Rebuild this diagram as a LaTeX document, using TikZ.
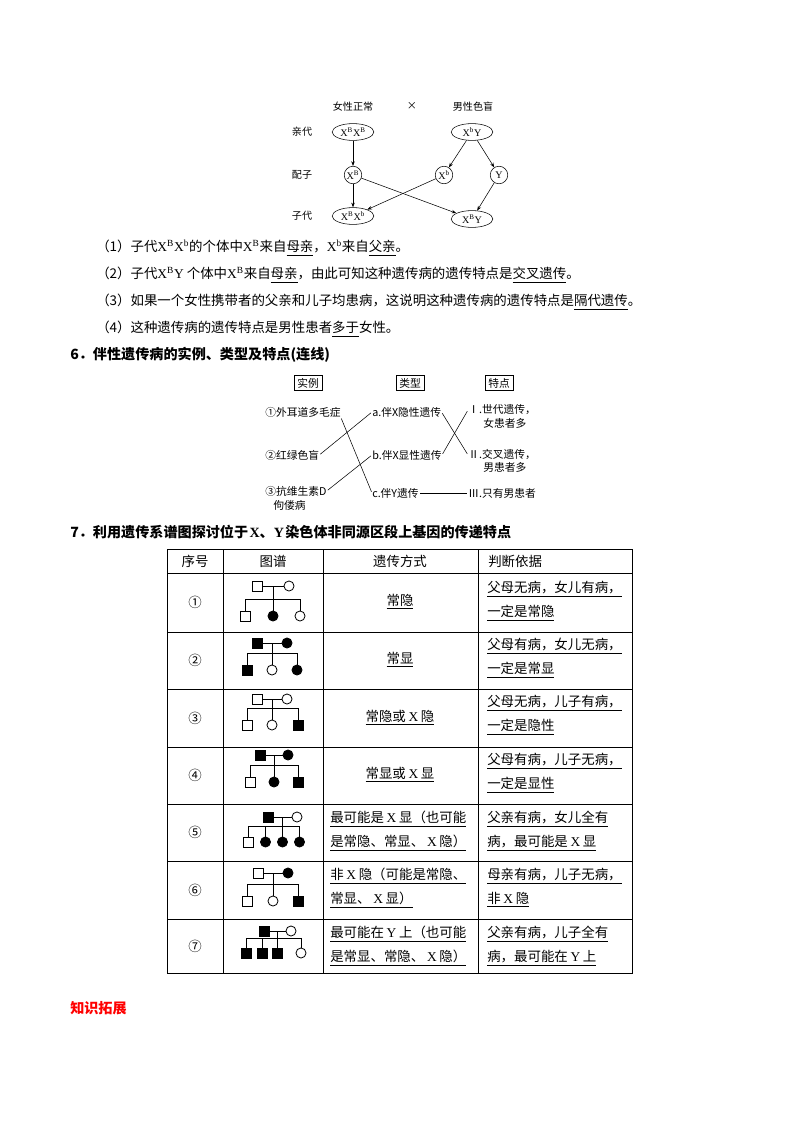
\documentclass[tikz,border=0pt]{standalone}
\usepackage{fontspec}
\setmainfont{Noto Sans CJK SC}
\newfontfamily\tnr{Liberation Serif}
\usetikzlibrary{arrows.meta}
\usetikzlibrary{shapes.geometric}
\newcommand\lx[1]{{\tnr #1}}
\newcommand\lxs[1]{{\kern2pt\tnr #1\kern2pt}}
\newcommand\xg[1]{{\tnr X\textsuperscript{#1}}}

\begin{document}
\begin{tikzpicture}
[x=0.7441pt,y=-0.7441pt
,txt/.style={anchor=west,inner sep=0pt,font=\fontsize{10pt}{12pt}\selectfont}
,head/.style={txt,font=\fontsize{10.5pt}{12pt}\selectfont\bfseries}
,lab/.style={inner sep=0pt,font=\fontsize{7.5pt}{9pt}\selectfont}
,gene/.style={lab,ellipse,draw,minimum width=31pt,minimum height=12.5pt}
,gam/.style={lab,circle,draw,minimum size=13pt}
,ge/.style={-{Stealth[length=3.5pt,width=2.6pt]},thin}
,kbox/.style={draw,inner xsep=2.5pt,inner ysep=2pt,font=\fontsize{8pt}{9pt}\selectfont}
,item/.style={anchor=west,inner sep=0pt,font=\fontsize{8pt}{9pt}\selectfont}
,link/.style={thin,shorten <=1pt,shorten >=1pt}
,grid/.style={line width=0.6pt}
,cell/.style={inner sep=0pt,font=\fontsize{10pt}{12pt}\selectfont}
,cellw/.style={cell,anchor=west}
,ped/.style={line width=0.6pt}
,male/.style={rectangle,draw,line width=0.6pt,minimum size=7.5pt,inner sep=0pt}
,female/.style={circle,draw,line width=0.6pt,minimum size=7.5pt,inner sep=0pt}
,amale/.style={male,fill}
,afemale/.style={female,fill}
]
\useasboundingbox (0,0) rectangle (800,1132);
\node[lab] (mom) at (353,107) {女性正常};
\node[lab] (cross) at (412,106) {×};
\node[lab] (dad) at (473,107) {男性色盲};
\node[lab] (gp) at (302,132) {亲代};
\node[gene] (p1) at (353,132) {\xg{B}\xg{B}};
\node[gene] (p2) at (472,132) {\xg{b}\lx{Y}};
\node[lab] (gg) at (302,175) {配子};
\node[gam] (g1) at (353,175) {\xg{B}};
\node[gam] (g2) at (444,175) {\xg{b}};
\node[gam] (g3) at (499,175) {\lx{Y}};
\node[lab] (gc) at (302,216) {子代};
\node[gene] (c1) at (353,216) {\xg{B}\xg{b}};
\node[gene] (c2) at (472,219) {\xg{B}\lx{Y}};
\draw[ge] (p1) -- (g1);
\draw[ge] (p2) -- (g2);
\draw[ge] (p2) -- (g3);
\draw[ge] (g1) -- (c1);
\draw[ge] (g1) -- (c2);
\draw[ge] (g2) -- (c1);
\draw[ge] (g3) -- (c2);

\node[txt] (q1) at (96,248) {（1）子代\xg{B}\xg{b}的个体中\xg{B}来自\underline{母亲}，\xg{b}来自\underline{父亲}。};
\node[txt] (q2) at (96,275) {（2）子代\xg{B}\lx{Y} 个体中\xg{B}来自\underline{母亲}，由此可知这种遗传病的遗传特点是\underline{交叉遗传}。};
\node[txt] (q3) at (96,302) {（3）如果一个女性携带者的父亲和儿子均患病，这说明这种遗传病的遗传特点是\underline{隔代遗传}。};
\node[txt] (q4) at (96,329) {（4）这种遗传病的遗传特点是男性患者\underline{多于}女性。};

\node[head] (s6) at (70,355) {6．伴性遗传病的实例、类型及特点(连线)};
\node[kbox] (h1) at (308,383) {实例};
\node[kbox] (h2) at (410,383) {类型};
\node[kbox] (h3) at (499,383) {特点};
\node[item] (e1) at (265,412) {①外耳道多毛症};
\node[item] (e2) at (265,455) {②红绿色盲};
\node[item] (e3) at (265,491) {③抗维生素D};
\node[item] (e3b) at (273,505) {佝偻病};
\node[item] (ta) at (372,412) {a.伴X隐性遗传};
\node[item] (tb) at (372,455) {b.伴X显性遗传};
\node[item] (tc) at (372,493) {c.伴Y遗传};
\node[item] (t1) at (468,410) {Ⅰ.世代遗传，};
\node[item] (t1b) at (483,423) {女患者多};
\node[item] (t2) at (468,455) {Ⅱ.交叉遗传，};
\node[item] (t2b) at (483,467) {男患者多};
\node[item] (t3) at (468,493) {Ⅲ.只有男患者};
\draw[link] (e1.south east) -- (tc.west);
\draw[link] (e2.east) -- (ta.west);
\draw[link] (e3.east) -- (tb.west);
\draw[link] (ta.east) -- (t2.west);
\draw[link] (tb.east) -- (t1.west);
\draw[link] (tc.east) -- (t3.west);

\node[head] (s7) at (70,532) {7．利用遗传系谱图探讨位于{\tnr\bfseries\kern1pt X}、{\tnr\bfseries Y\kern1pt}染色体非同源区段上基因的传递特点};
\draw[grid] (167,549) rectangle (632,973);
\draw[grid] (167,573) -- (632,573);
\draw[grid] (167,632) -- (632,632);
\draw[grid] (167,689) -- (632,689);
\draw[grid] (167,747) -- (632,747);
\draw[grid] (167,804) -- (632,804);
\draw[grid] (167,861) -- (632,861);
\draw[grid] (167,919) -- (632,919);
\draw[grid] (223,549) -- (223,973);
\draw[grid] (323,549) -- (323,973);
\draw[grid] (478,549) -- (478,973);
\node[cell] (hd1) at (195,561) {序号};
\node[cell] (hd2) at (273,561) {图谱};
\node[cell] (hd3) at (400,561) {遗传方式};
\node[cellw] (hd4) at (488,561) {判断依据};

\node[cell] (n1) at (195,602) {①};
\node[cell] (n2) at (195,660) {②};
\node[cell] (n3) at (195,718) {③};
\node[cell] (n4) at (195,775) {④};
\node[cell] (n5) at (195,832) {⑤};
\node[cell] (n6) at (195,890) {⑥};
\node[cell] (n7) at (195,946) {⑦};

\node[cell] (w1) at (400,602) {\underline{常隐}};
\node[cell] (w2) at (400,660) {\underline{常显}};
\node[cell] (w3) at (400,718) {\underline{常隐或\lxs{X}隐}};
\node[cell] (w4) at (400,775) {\underline{常显或\lxs{X}显}};
\node[cellw] (w5) at (330,819) {\underline{最可能是\lxs{X}显（也可能}};
\node[cellw] (w5b) at (330,843) {\underline{是常隐、常显、\lxs{X}隐）}};
\node[cellw] (w6) at (330,876) {\underline{非\lxs{X}隐（可能是常隐、}};
\node[cellw] (w6b) at (330,900) {\underline{常显、\lxs{X}显）}};
\node[cellw] (w7) at (330,934) {\underline{最可能在\lxs{Y}上（也可能}};
\node[cellw] (w7b) at (330,958) {\underline{是常显、常隐、\lxs{X}隐）}};

\node[cellw] (j1) at (487,589) {\underline{父母无病，女儿有病，}};
\node[cellw] (j1b) at (487,613) {\underline{一定是常隐}};
\node[cellw] (j2) at (487,646) {\underline{父母有病，女儿无病，}};
\node[cellw] (j2b) at (487,670) {\underline{一定是常显}};
\node[cellw] (j3) at (487,703) {\underline{父母无病，儿子有病，}};
\node[cellw] (j3b) at (487,727) {\underline{一定是隐性}};
\node[cellw] (j4) at (487,761) {\underline{父母有病，儿子无病，}};
\node[cellw] (j4b) at (487,785) {\underline{一定是显性}};
\node[cellw] (j5) at (487,819) {\underline{父亲有病，女儿全有}};
\node[cellw] (j5b) at (487,843) {\underline{病，最可能是\lxs{X}显}};
\node[cellw] (j6) at (487,876) {\underline{母亲有病，儿子无病，}};
\node[cellw] (j6b) at (487,900) {\underline{非\lxs{X}隐}};
\node[cellw] (j7) at (487,934) {\underline{父亲有病，儿子全有}};
\node[cellw] (j7b) at (487,958) {\underline{病，最可能在\lxs{Y}上}};

\node[male] (f1) at (257,586) {};
\node[female] (m1) at (289,586) {};
\node[male] (k11) at (245,616) {};
\node[afemale] (k12) at (273,616) {};
\node[female] (k13) at (300,616) {};
\draw[ped] (f1) -- coordinate (u1) (m1);
\draw[ped] (u1) -- (u1 |- k12.north);
\draw[ped] (k11.north) -- ++(0,-11) -| (k13.north);

\node[amale] (f2) at (257,643) {};
\node[afemale] (m2) at (287,643) {};
\node[amale] (k21) at (247,670) {};
\node[female] (k22) at (272,670) {};
\node[afemale] (k23) at (297,670) {};
\draw[ped] (f2) -- coordinate (u2) (m2);
\draw[ped] (u2) -- (u2 |- k22.north);
\draw[ped] (k21.north) -- ++(0,-11) -| (k23.north);

\node[male] (f3) at (257,699) {};
\node[female] (m3) at (287,699) {};
\node[male] (k31) at (247,725) {};
\node[female] (k32) at (272,725) {};
\node[amale] (k33) at (298,725) {};
\draw[ped] (f3) -- coordinate (u3) (m3);
\draw[ped] (u3) -- (u3 |- k32.north);
\draw[ped] (k31.north) -- ++(0,-11) -| (k33.north);

\node[amale] (f4) at (260,755) {};
\node[afemale] (m4) at (288,755) {};
\node[male] (k41) at (250,782) {};
\node[afemale] (k42) at (274,782) {};
\node[amale] (k43) at (298,782) {};
\draw[ped] (f4) -- coordinate (u4) (m4);
\draw[ped] (u4) -- (u4 |- k42.north);
\draw[ped] (k41.north) -- ++(0,-11) -| (k43.north);

\node[amale] (f5) at (268,817) {};
\node[female] (m5) at (297,817) {};
\node[male] (k51) at (248,842) {};
\node[afemale] (k52) at (265.5,842) {};
\node[afemale] (k53) at (282.5,842) {};
\node[afemale] (k54) at (299.5,842) {};
\draw[ped] (f5) -- coordinate (u5) (m5);
\draw[ped] (u5) -- (u5 |- k53.north);
\draw[ped] (k51.north) -- ++(0,-10) -| (k54.north);
\draw[ped] (k52.north) -- ++(0,-10);

\node[male] (f6) at (258,873) {};
\node[afemale] (m6) at (288,873) {};
\node[male] (k61) at (247,901) {};
\node[female] (k62) at (273,901) {};
\node[amale] (k63) at (298,901) {};
\draw[ped] (f6) -- coordinate (u6) (m6);
\draw[ped] (u6) -- (u6 |- k62.north);
\draw[ped] (k61.north) -- ++(0,-11) -| (k63.north);

\node[amale] (f7) at (264,931) {};
\node[female] (m7) at (291,931) {};
\node[amale] (k71) at (246,953) {};
\node[amale] (k72) at (262,953) {};
\node[amale] (k73) at (277.5,953) {};
\node[female] (k74) at (301,953) {};
\draw[ped] (f7) -- coordinate (u7) (m7);
\draw[ped] (u7) -- (u7 |- k73.north);
\draw[ped] (k71.north) -- ++(0,-9) -| (k74.north);
\draw[ped] (k72.north) -- ++(0,-9);

\node[head,text=red] (kz) at (70,1008) {知识拓展};
\end{tikzpicture}
\end{document}
